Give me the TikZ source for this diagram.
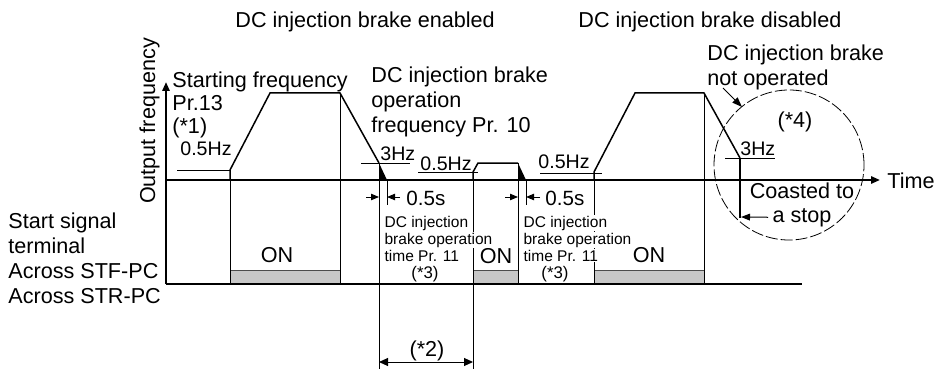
\documentclass[tikz,border=0pt]{standalone}
\usepackage{fontspec}
\setmainfont{Liberation Sans}
\usetikzlibrary{arrows.meta}

\begin{document}
\begin{tikzpicture}[x=0.5pt, y=-0.5pt,
    lbl/.style={inner sep=0pt, font=\fontsize{10.8}{12.5}\selectfont},
    val/.style={inner sep=0pt, anchor=base west, font=\fontsize{9.8}{11}\selectfont},
    note/.style={inner sep=0.6pt, fill=white, anchor=base west, font=\fontsize{7.75}{8.75}\selectfont},
    axisline/.style={line width=1.1pt},
    freqline/.style={line width=0.75pt},
    marker/.style={line width=0.5pt},
    onbox/.style={draw=black!70, line width=0.5pt, fill=black!22},
    dim/.style={line width=0.5pt, -{Triangle[length=4pt, width=3.2pt]}},
    >={Triangle[length=4.5pt, width=3.6pt]},
]
    \useasboundingbox (0,0) rectangle (935,369);

    % ON periods of the start signal
    \draw[onbox] (230,270) rectangle (340,284);
    \draw[onbox] (473,270) rectangle (518,284);
    \draw[onbox] (594,270) rectangle (704,284);

    % Timing lines
    \draw[marker] (230,180) -- (230,284);
    \draw[marker] (340,93) -- (340,284);
    \draw[marker] (379,163) -- (379,369);
    \draw[marker] (387,180) -- (387,205);
    \draw[marker] (473,172) -- (473,369);
    \draw[marker] (518,163) -- (518,284);
    \draw[marker] (526,180) -- (526,205);
    \draw[marker] (594,172) -- (594,284);
    \draw[marker] (704,93) -- (704,284);

    % Level lines
    \draw[marker] (177,170) -- (230,170);
    \draw[marker] (361,163) -- (410,163);
    \draw[marker] (418,172) -- (478,172);
    \draw[marker] (540,173) -- (602,173);
    \draw[marker] (725,158) -- (775,158);

    % Axes
    \coordinate (org) at (166,180);
    \coordinate (ytop) at (166,82);
    \coordinate (xend) at (880,180);
    \coordinate (sigl) at (166,284);
    \coordinate (sigr) at (802,284);
    \draw[axisline, ->] (sigl) -- (ytop);
    \draw[axisline, ->] (org) -- (xend);
    \draw[axisline] (sigl) -- (sigr);

    % Output frequency
    \draw[freqline] (230,180) -- (230,170) -- (270,93) -- (340,93) -- (379,163);
    \fill (379,163) -- (379,180) -- (387,180) -- cycle;
    \draw[freqline] (473,180) -- (473,172) -- (478,163) -- (518,163);
    \fill (518,163) -- (518,180) -- (526,180) -- cycle;
    \draw[freqline] (594,180) -- (594,172) -- (635,93) -- (704,93) -- (740,158);
    \draw[axisline] (740,158) -- (740,218);

    % Titles and axis labels
    \node[lbl, anchor=base west] (enabled) at (235,28) {DC injection brake enabled};
    \node[lbl, anchor=base west] (disabled) at (578,28) {DC injection brake disabled};
    \node[lbl, anchor=base, rotate=90] (yname) at (155,121) {Output frequency};
    \node[lbl, anchor=base west] (xname) at (887,188) {Time};
    \node[lbl, anchor=north west, align=left] (signal) at (8,212) {Start signal\\terminal\\Across STF-PC\\Across STR-PC};

    % Frequency notes
    \node[lbl, anchor=north west, align=left, font=\fontsize{10.8}{11.5}\selectfont] (startf) at (172,71) {Starting frequency\\Pr.13\\(*1)};
    \node[lbl, anchor=north west, align=left] (opfreq) at (371,66) {DC injection brake\\operation\\frequency Pr. 10};
    \node[lbl, anchor=north west, align=left] (notop) at (707,44) {DC injection brake\\not operated};
    \node[val] (hz1) at (180,155) {0.5Hz};
    \node[val] (hz2) at (420,170) {0.5Hz};
    \node[val] (hz3) at (538,168) {0.5Hz};
    \node[val] (hz4) at (380,160) {3Hz};
    \node[val] (hz5) at (740,155) {3Hz};

    % ON labels
    \node[lbl, anchor=base] (on1) at (277,262) {ON};
    \node[lbl, anchor=base] (on2) at (496,263) {ON};
    \node[lbl, anchor=base] (on3) at (649,262) {ON};

    % Brake operation time
    \node[val, font=\fontsize{10.3}{11}\selectfont] (ts1) at (406,205) {0.5s};
    \node[val, font=\fontsize{10.3}{11}\selectfont] (ts2) at (545,205) {0.5s};
    \draw[dim] (366,197) -- (379,197);
    \draw[dim] (400,197) -- (387,197);
    \draw[dim] (505,197) -- (518,197);
    \draw[dim] (540,197) -- (526,197);

    \node[note] (tm1a) at (383,227) {DC injection};
    \node[note] (tm1b) at (383,244) {brake operation};
    \node[note] (tm1c) at (383,261) {time Pr. 11};
    \node[note, anchor=base, font=\fontsize{8.4}{9}\selectfont] (tm1d) at (425,278) {(*3)};
    \node[note] (tm2a) at (522,227) {DC injection};
    \node[note] (tm2b) at (522,244) {brake operation};
    \node[note] (tm2c) at (522,261) {time Pr. 11};
    \node[note, anchor=base, font=\fontsize{8.4}{9}\selectfont] (tm2d) at (555,278) {(*3)};

    % Restart wait time
    \draw[marker, {Triangle[length=4.5pt, width=4pt]}-{Triangle[length=4.5pt, width=4pt]}] (379,362) -- (473,362);
    \node[lbl] (wait) at (427,351) {(*2)};

    % Coasting without DC injection brake
    \draw[line width=0.4pt, dash pattern=on 6pt off 1.5pt] (789,165) circle[radius=37.5pt];
    \node[lbl] (n4) at (795,122) {(*4)};
    \coordinate (notopend) at (742,107);
    \draw[marker, -{Triangle[length=5pt, width=3.6pt]}] (723,88) -- (notopend);
    \node[lbl, anchor=base] (coast1) at (802,198) {Coasted to};
    \node[lbl, anchor=base, inner sep=2pt] (coast2) at (802,222) {a stop};
    \coordinate (stopend) at (741,217);
    \draw[marker, -{Triangle[length=4.5pt, width=3.4pt]}] (coast2.west) -- (stopend);
\end{tikzpicture}
\end{document}
